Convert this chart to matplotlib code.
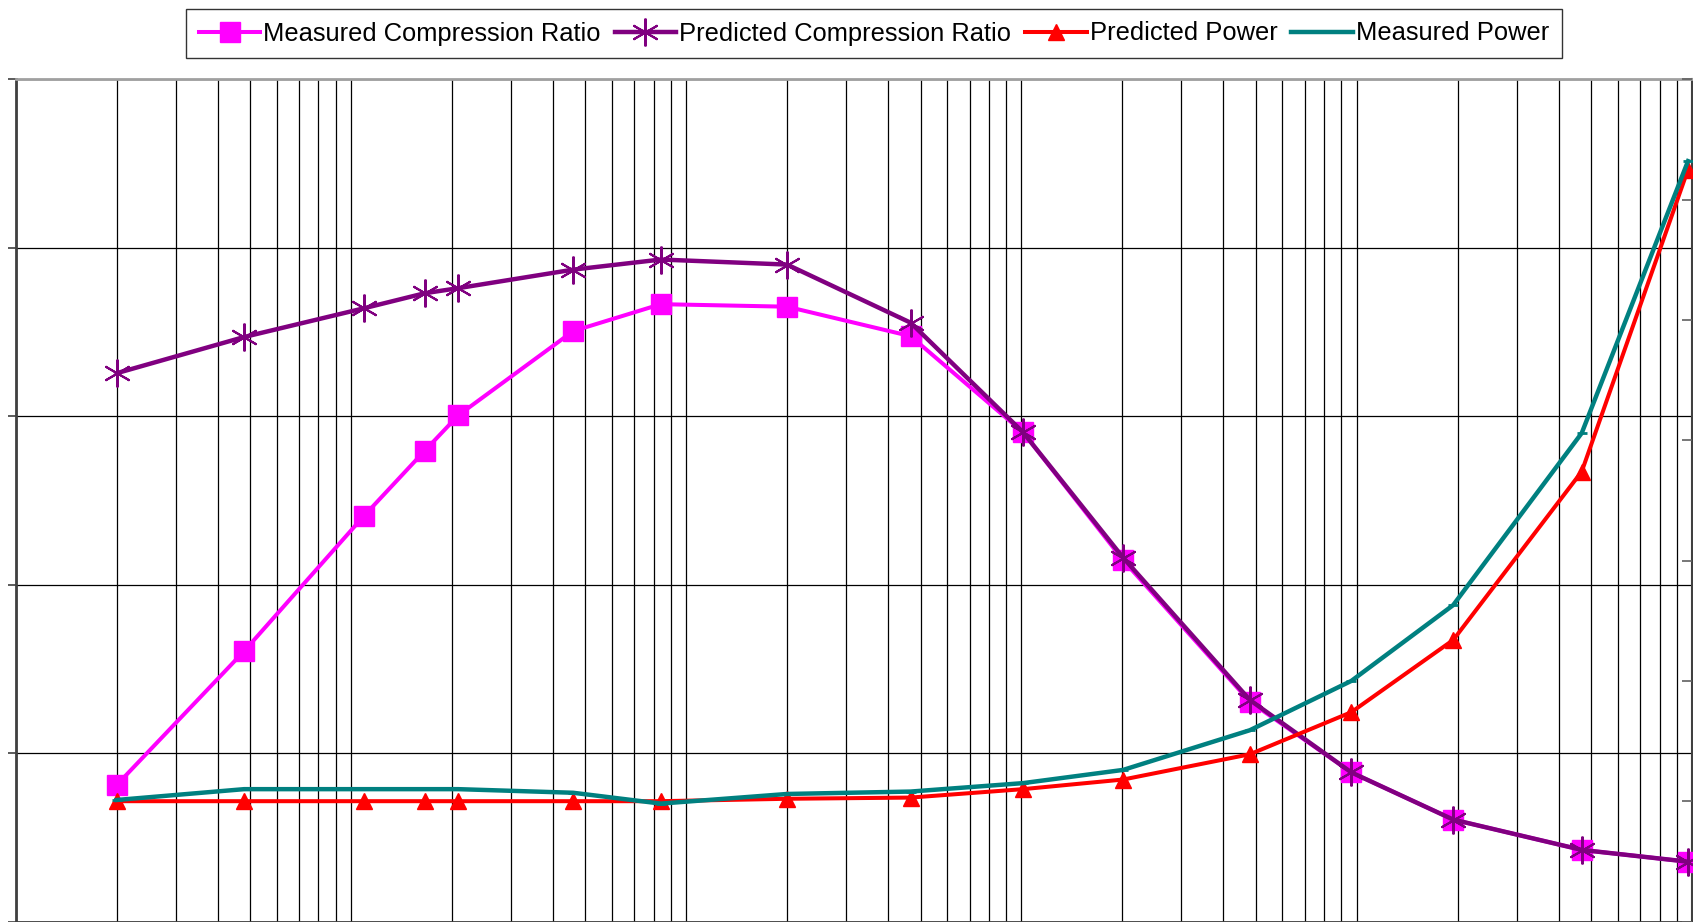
import numpy as np
import matplotlib.pyplot as plt
from matplotlib.ticker import LogLocator, NullFormatter, MultipleLocator

plt.rcParams['font.family'] = ['Liberation Sans', 'DejaVu Sans']

# sweep points (log axis)
freq = [2, 4.8, 10.9, 16.6, 20.9, 46, 84, 200, 467, 1010,
        2010, 4800, 9640, 19400, 46900, 97300]

# compression ratio (left axis)
cr_measured = [1.62, 3.21, 4.81, 5.59, 6.01, 7.01, 7.33, 7.30, 6.95, 5.81,
               4.29, 2.61, 1.77, 1.21, 0.85, 0.71]
cr_predicted = [6.51, 6.94, 7.28, 7.46, 7.52, 7.74, 7.86, 7.80, 7.11, 5.81,
                4.32, 2.63, 1.77, 1.21, 0.85, 0.71]

# power (right axis)
power_predicted = [10.0, 10.0, 10.0, 10.0, 10.0, 10.0, 10.0, 10.2, 10.3, 11.0,
                   11.8, 13.9, 17.4, 23.4, 37.4, 62.5]
power_measured = [10.1, 11.0, 11.0, 11.0, 11.0, 10.7, 9.8, 10.6, 10.8, 11.5,
                  12.6, 15.9, 20.0, 26.3, 40.6, 63.2]

W, H = 1693, 922
fig = plt.figure(figsize=(W / 100, H / 100), dpi=100)
x0, x1, y_top, y_bot = 15.7, 1692.0, 79.3, 921.5
ax = fig.add_axes([x0 / W, (H - y_bot) / H, (x1 - x0) / W, (y_bot - y_top) / H])

ax.set_xscale('log')
ax.set_xlim(1, 1e5)
ax.set_ylim(0, 10)
ax.yaxis.set_major_locator(MultipleLocator(2))
ax.xaxis.set_major_locator(LogLocator(base=10))
ax.xaxis.set_minor_locator(LogLocator(base=10, subs=np.arange(2, 10)))
ax.xaxis.set_major_formatter(NullFormatter())
ax.xaxis.set_minor_formatter(NullFormatter())
ax.yaxis.set_major_formatter(NullFormatter())
ax.tick_params(axis='x', which='both', length=0)
ax.tick_params(axis='y', which='major', direction='out', length=6, width=1.2, color='#404040')
ax.grid(True, which='both', axis='x', color='black', lw=0.9)
ax.grid(True, which='major', axis='y', color='black', lw=0.9)
ax.set_axisbelow(True)

for side, c, w in [('left', '#404040', 2.0), ('top', '#a0a0a0', 2.0),
                   ('bottom', '#404040', 2.0), ('right', '#404040', 1.5)]:
    ax.spines[side].set_color(c)
    ax.spines[side].set_linewidth(w)

h1, = ax.plot(freq, cr_measured, color='#ff00ff', lw=2.9, marker='s', ms=15,
              mec='#ff00ff', mfc='#ff00ff', label='Measured Compression Ratio', zorder=3)
h2, = ax.plot(freq, cr_predicted, color='#800080', lw=3.2, marker=(6, 2, 0), ms=20,
              mec='#800080', mew=1.5, label='Predicted Compression Ratio', zorder=4)

ax2 = ax.twinx()
ax2.set_ylim(0, 70)
ax2.yaxis.set_major_locator(MultipleLocator(10))
ax2.yaxis.set_major_formatter(NullFormatter())
ax2.tick_params(axis='y', direction='in', length=7, width=1.2, color='#606060')
for s in ax2.spines.values():
    s.set_visible(False)

h3, = ax2.plot(freq, power_predicted, color='#ff0000', lw=2.9, marker='^', ms=11,
               mec='#ff0000', mfc='#ff0000', label='Predicted Power', zorder=3)
h4, = ax2.plot(freq, power_measured, color='#008080', lw=3.2, marker='_', ms=7,
               mew=2, mec='#008080', label='Measured Power', zorder=4)

leg = fig.legend(handles=[h1, h2, h3, h4], loc='center', ncol=4,
                 bbox_to_anchor=(874 / W, 1 - 33.5 / H), fontsize=18.4,
                 frameon=True, fancybox=False, edgecolor='black',
                 handlelength=2.4, handletextpad=0.12, columnspacing=0.55,
                 borderpad=0.5, borderaxespad=0)
leg.get_frame().set_linewidth(1.0)

fig.savefig('out.png', dpi=100)
